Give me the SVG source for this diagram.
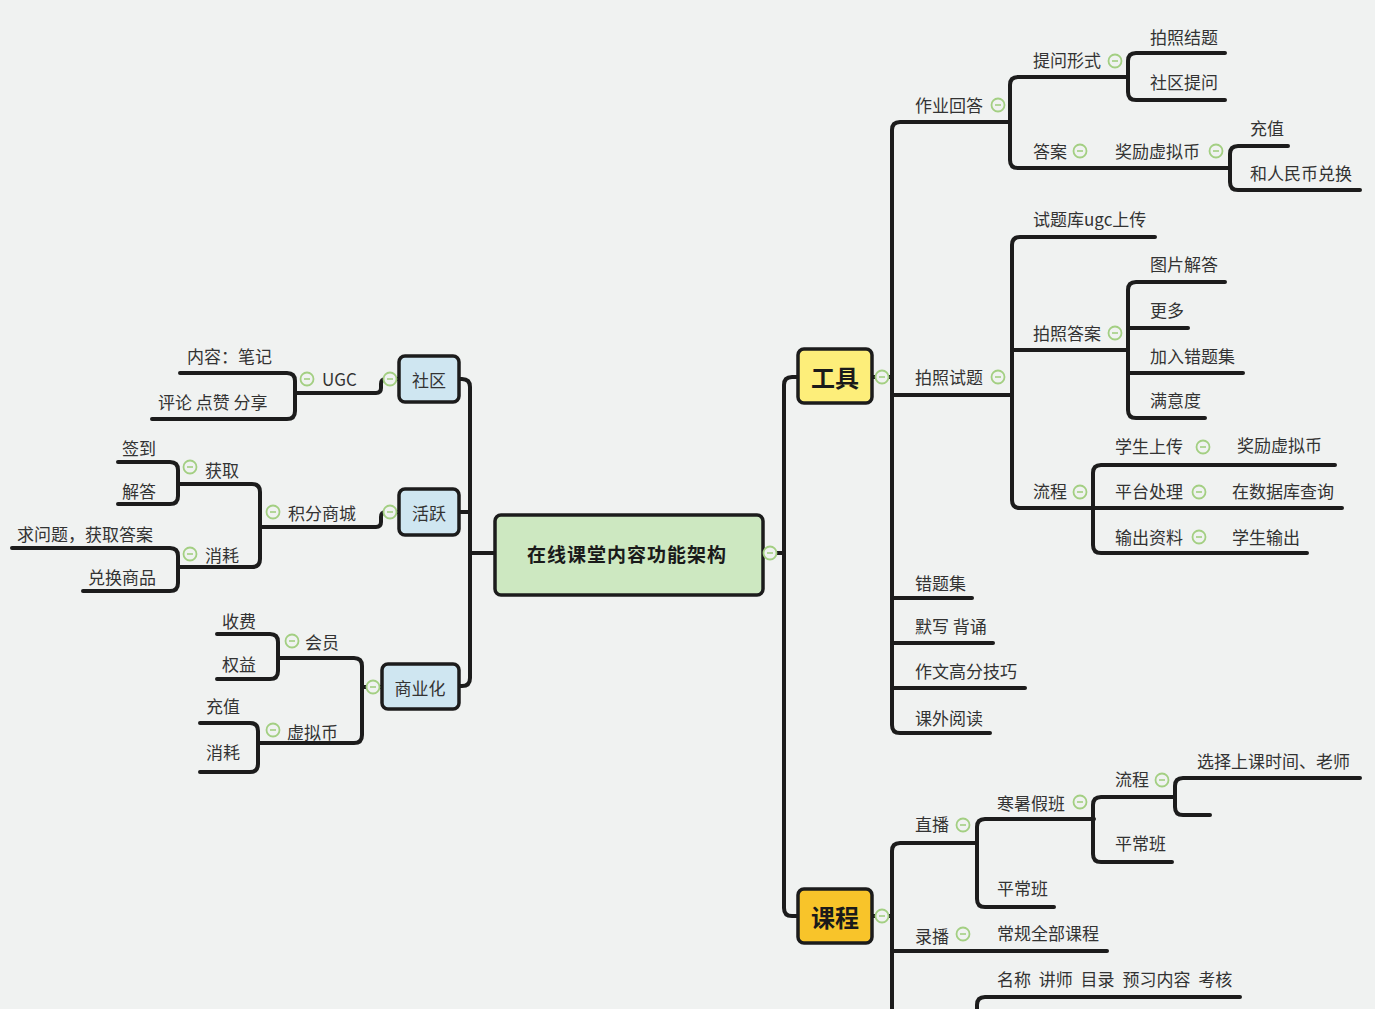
<svg xmlns="http://www.w3.org/2000/svg" xmlns:xlink="http://www.w3.org/1999/xlink" width="1375" height="1009" viewBox="0 0 1375 1009">
<style>
.ln{fill:none;stroke:#1c1c1c;stroke-width:4;stroke-linecap:round;stroke-linejoin:round}
.t{font-family:"Noto Sans CJK SC","Noto Sans",sans-serif;font-size:17px;fill:#333;dominant-baseline:central}
.bt{font-family:"Noto Sans CJK SC","Noto Sans",sans-serif;fill:#1a1a1a;font-weight:bold;dominant-baseline:central;text-anchor:middle}
.box{stroke:#1c1c1c;stroke-width:3.5}
</style>
<defs>
<g id="c"><circle cx="0" cy="0" r="6.5" fill="#f0f2f1" stroke="#a3cf82" stroke-width="1.8"/><line x1="-3" y1="0" x2="3" y2="0" stroke="#a3cf82" stroke-width="1.6"/></g>
</defs>
<rect width="1375" height="1009" fill="#f0f2f1"/>

<g id="connectors">
<path class="ln" d="M470 553 H495"/>
<path class="ln" d="M459 379 H462 Q470 379 470 387 V678 Q470 686 462 686 H459"/>
<path class="ln" d="M459 512 H470"/>
<path class="ln" d="M399 379 H386 Q381 379 381 384 V388 Q381 393 376 393 H295"/>
<path class="ln" d="M180 373 H287 Q295 373 295 381 V411 Q295 419 287 419 H152"/>
<path class="ln" d="M399 512 H386 Q381 512 381 517 V522 Q381 527 376 527 H260"/>
<path class="ln" d="M178 484 H252 Q260 484 260 492 V559 Q260 567 252 567 H178"/>
<path class="ln" d="M118 462 H170 Q178 462 178 470 V496 Q178 504 170 504 H118"/>
<path class="ln" d="M12 548 H170 Q178 548 178 556 V583 Q178 591 170 591 H83"/>
<path class="ln" d="M382 687 H362"/>
<path class="ln" d="M280 658 H354 Q362 658 362 666 V735 Q362 743 354 743 H258"/>
<path class="ln" d="M217 634 H270 Q278 634 278 642 V671 Q278 679 270 679 H217"/>
<path class="ln" d="M200 723 H250 Q258 723 258 731 V764 Q258 772 250 772 H200"/>
<path class="ln" d="M763 553 H784"/>
<path class="ln" d="M798 377 H792 Q784 377 784 385 V908 Q784 916 792 916 H798"/>
<path class="ln" d="M872 377 H892"/>
<path class="ln" d="M1010 122 H900 Q892 122 892 130 V725 Q892 733 900 733 H990"/>
<path class="ln" d="M892 395 H1012"/>
<path class="ln" d="M892 598 H972"/>
<path class="ln" d="M892 643 H993"/>
<path class="ln" d="M892 688 H1025"/>
<path class="ln" d="M1128 77 H1018 Q1010 77 1010 85 V160 Q1010 168 1018 168 H1230"/>
<path class="ln" d="M1225 53 H1136 Q1128 53 1128 61 V92 Q1128 100 1136 100 H1225"/>
<path class="ln" d="M1288 146 H1238 Q1230 146 1230 154 V182 Q1230 190 1238 190 H1360"/>
<path class="ln" d="M1155 237 H1020 Q1012 237 1012 245 V500 Q1012 508 1020 508 H1342"/>
<path class="ln" d="M1012 350 H1128"/>
<path class="ln" d="M1225 282 H1136 Q1128 282 1128 290 V410 Q1128 418 1136 418 H1205"/>
<path class="ln" d="M1128 328 H1188"/>
<path class="ln" d="M1128 373 H1243"/>
<path class="ln" d="M1335 465 H1101 Q1093 465 1093 473 V545 Q1093 553 1101 553 H1307"/>
<path class="ln" d="M872 916 H892"/>
<path class="ln" d="M977 843 H900 Q892 843 892 851 V1015"/>
<path class="ln" d="M892 951 H1107"/>
<path class="ln" d="M1094 819 H985 Q977 819 977 827 V899 Q977 907 985 907 H1054"/>
<path class="ln" d="M1174 797 H1101 Q1093 797 1093 805 V854 Q1093 862 1101 862 H1172"/>
<path class="ln" d="M1360 778 H1183 Q1175 778 1175 786 V807 Q1175 815 1183 815 H1210"/>
<path class="ln" d="M1240 997 H985 Q977 997 977 1005 V1015"/>
</g>

<g id="root">
<rect class="box" x="495" y="515" width="268" height="80" rx="6" fill="#cde8c1"/>
<text class="bt" x="627" y="553" font-size="19" letter-spacing="1">在线课堂内容功能架构</text>
<use xlink:href="#c" x="770" y="553"/>
</g>

<g id="n-shequ">
<rect class="box" x="399" y="356" width="60" height="46" rx="6" fill="#cfe6f1"/>
<text class="t" x="429" y="379" text-anchor="middle">社区</text>
<use xlink:href="#c" x="390" y="379"/>
</g>
<g id="n-ugc"><text class="t" x="322" y="378">UGC</text><use xlink:href="#c" x="307" y="379"/></g>
<g id="n-neirong"><text class="t" x="187" y="355">内容：笔记</text></g>
<g id="n-pinglun"><text class="t" x="158" y="401">评论 点赞 分享</text></g>

<g id="n-huoyue">
<rect class="box" x="399" y="489" width="60" height="46" rx="6" fill="#cfe6f1"/>
<text class="t" x="429" y="512" text-anchor="middle">活跃</text>
<use xlink:href="#c" x="390" y="512"/>
</g>
<g id="n-jifen"><text class="t" x="288" y="512">积分商城</text><use xlink:href="#c" x="273" y="512"/></g>
<g id="n-huoqu"><text class="t" x="205" y="469">获取</text><use xlink:href="#c" x="190" y="467"/></g>
<g id="n-qiandao"><text class="t" x="122" y="447">签到</text></g>
<g id="n-jieda"><text class="t" x="122" y="490">解答</text></g>
<g id="n-xiaohao1"><text class="t" x="205" y="554">消耗</text><use xlink:href="#c" x="190" y="554"/></g>
<g id="n-qiuwenti"><text class="t" x="17" y="533">求问题，获取答案</text></g>
<g id="n-duihuan"><text class="t" x="88" y="576">兑换商品</text></g>

<g id="n-shangye">
<rect class="box" x="382" y="664" width="77" height="45" rx="6" fill="#cfe6f1"/>
<text class="t" x="420" y="687" text-anchor="middle">商业化</text>
<use xlink:href="#c" x="373" y="687"/>
</g>
<g id="n-huiyuan"><text class="t" x="305" y="641">会员</text><use xlink:href="#c" x="292" y="641"/></g>
<g id="n-shoufei"><text class="t" x="222" y="620">收费</text></g>
<g id="n-quanyi"><text class="t" x="222" y="663">权益</text></g>
<g id="n-xunibi"><text class="t" x="287" y="731">虚拟币</text><use xlink:href="#c" x="273" y="730"/></g>
<g id="n-chongzhi1"><text class="t" x="206" y="705">充值</text></g>
<g id="n-xiaohao2"><text class="t" x="206" y="751">消耗</text></g>

<g id="n-gongju">
<rect class="box" x="798" y="349" width="74" height="54" rx="6" fill="#fdee7a"/>
<text class="bt" x="835" y="376" font-size="24">工具</text>
<use xlink:href="#c" x="882" y="377"/>
</g>
<g id="n-zuoye"><text class="t" x="915" y="104">作业回答</text><use xlink:href="#c" x="998" y="105"/></g>
<g id="n-tiwen"><text class="t" x="1033" y="59">提问形式</text><use xlink:href="#c" x="1115" y="61"/></g>
<g id="n-paizhaojieti"><text class="t" x="1150" y="36">拍照结题</text></g>
<g id="n-shequtiwen"><text class="t" x="1150" y="81">社区提问</text></g>
<g id="n-daan"><text class="t" x="1033" y="150">答案</text><use xlink:href="#c" x="1080" y="151"/></g>
<g id="n-jiangli1"><text class="t" x="1115" y="150">奖励虚拟币</text><use xlink:href="#c" x="1216" y="151"/></g>
<g id="n-chongzhi2"><text class="t" x="1250" y="127">充值</text></g>
<g id="n-renminbi"><text class="t" x="1250" y="172">和人民币兑换</text></g>
<g id="n-paizhaoshiti"><text class="t" x="915" y="376">拍照试题</text><use xlink:href="#c" x="998" y="377"/></g>
<g id="n-tiku"><text class="t" x="1033" y="218">试题库ugc上传</text></g>
<g id="n-paizhaodaan"><text class="t" x="1033" y="332">拍照答案</text><use xlink:href="#c" x="1115" y="333"/></g>
<g id="n-tupian"><text class="t" x="1150" y="263">图片解答</text></g>
<g id="n-gengduo"><text class="t" x="1150" y="309">更多</text></g>
<g id="n-jiaru"><text class="t" x="1150" y="355">加入错题集</text></g>
<g id="n-manyi"><text class="t" x="1150" y="399">满意度</text></g>
<g id="n-liucheng1"><text class="t" x="1033" y="490">流程</text><use xlink:href="#c" x="1080" y="492"/></g>
<g id="n-xuesheng"><text class="t" x="1115" y="445">学生上传</text><use xlink:href="#c" x="1203" y="447"/></g>
<g id="n-jiangli2"><text class="t" x="1237" y="444">奖励虚拟币</text></g>
<g id="n-pingtai"><text class="t" x="1115" y="490">平台处理</text><use xlink:href="#c" x="1199" y="492"/></g>
<g id="n-shujuku"><text class="t" x="1232" y="490">在数据库查询</text></g>
<g id="n-shuchu"><text class="t" x="1115" y="536">输出资料</text><use xlink:href="#c" x="1199" y="537"/></g>
<g id="n-xueshengshuchu"><text class="t" x="1232" y="536">学生输出</text></g>
<g id="n-cuotiji"><text class="t" x="915" y="582">错题集</text></g>
<g id="n-moxie"><text class="t" x="915" y="625">默写 背诵</text></g>
<g id="n-zuowen"><text class="t" x="915" y="670">作文高分技巧</text></g>
<g id="n-kewai"><text class="t" x="915" y="717">课外阅读</text></g>

<g id="n-kecheng">
<rect class="box" x="798" y="889" width="74" height="54" rx="6" fill="#f8c42a"/>
<text class="bt" x="835" y="916" font-size="24">课程</text>
<use xlink:href="#c" x="882" y="916"/>
</g>
<g id="n-zhibo"><text class="t" x="915" y="823">直播</text><use xlink:href="#c" x="963" y="825"/></g>
<g id="n-hanshu"><text class="t" x="997" y="802">寒暑假班</text><use xlink:href="#c" x="1080" y="802"/></g>
<g id="n-liucheng2"><text class="t" x="1115" y="778">流程</text><use xlink:href="#c" x="1162" y="780"/></g>
<g id="n-xuanze"><text class="t" x="1197" y="760">选择上课时间、老师</text></g>
<g id="n-pingchang1"><text class="t" x="1115" y="842">平常班</text></g>
<g id="n-pingchang2"><text class="t" x="997" y="887">平常班</text></g>
<g id="n-lubo"><text class="t" x="915" y="935">录播</text><use xlink:href="#c" x="963" y="934"/></g>
<g id="n-changgui"><text class="t" x="997" y="932">常规全部课程</text></g>
<g id="n-mingcheng"><text class="t" x="997" y="978" word-spacing="4">名称 讲师 目录 预习内容 考核</text></g>
</svg>
